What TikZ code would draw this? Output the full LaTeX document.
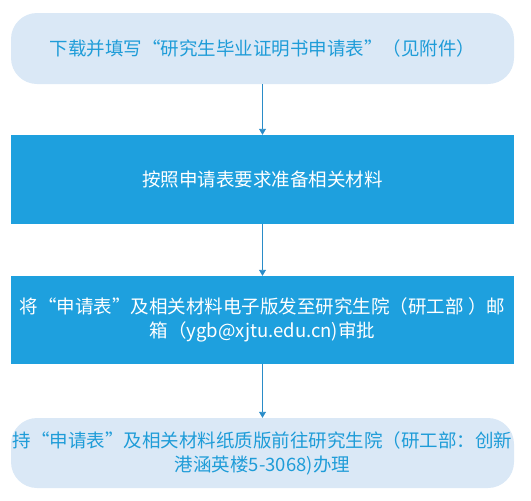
\documentclass[tikz,border=0pt]{standalone}
\usepackage{fontspec}
\newfontfamily\cjk{Noto Sans CJK SC}
\usetikzlibrary{arrows.meta}
\definecolor{paleblue}{HTML}{DAE8F6}
\definecolor{deepblue}{HTML}{1EA0DE}
\definecolor{textblue}{HTML}{1E9CD8}
\definecolor{arrowblue}{HTML}{2A8CC8}

\begin{document}
\begin{tikzpicture}[x=1pt, y=-1pt]
\tikzstyle{soft}=[rectangle, rounded corners=26pt, fill=paleblue, text=textblue, minimum width=503pt, inner sep=0pt, align=center, font=\cjk\fontsize{18.5}{24}\selectfont]
\tikzstyle{solid}=[rectangle, fill=deepblue, text=white, minimum width=503pt, inner sep=0pt, align=center, font=\cjk\fontsize{18.5}{24}\selectfont]
\tikzstyle{link}=[draw=arrowblue, line width=0.9pt, -{Triangle[width=7pt, length=6pt]}]

	\useasboundingbox (0,0) rectangle (531,501);
	%boxes
	\node[soft, minimum height=71pt] (download) at (262.5,48.5) {下载并填写“研究生毕业证明书申请表”（见附件）};
	\node[solid, minimum height=89pt] (prepare) at (262.5,179.5) {按照申请表要求准备相关材料};
	\node[solid, minimum height=88pt] (email) at (262.5,320) {将“申请表”及相关材料电子版发至研究生院（研工部 ）邮\\箱（ygb@xjtu.edu.cn)审批};
	\node[soft, minimum height=70pt] (visit) at (262.5,453) {持“申请表”及相关材料纸质版前往研究生院（研工部：创新\\港涵英楼5-3068)办理};
	%paths
	\draw[link] (download) -- (prepare);
	\draw[link] (prepare) -- (email);
	\draw[link] (email) -- (visit);

\end{tikzpicture}
\end{document}
